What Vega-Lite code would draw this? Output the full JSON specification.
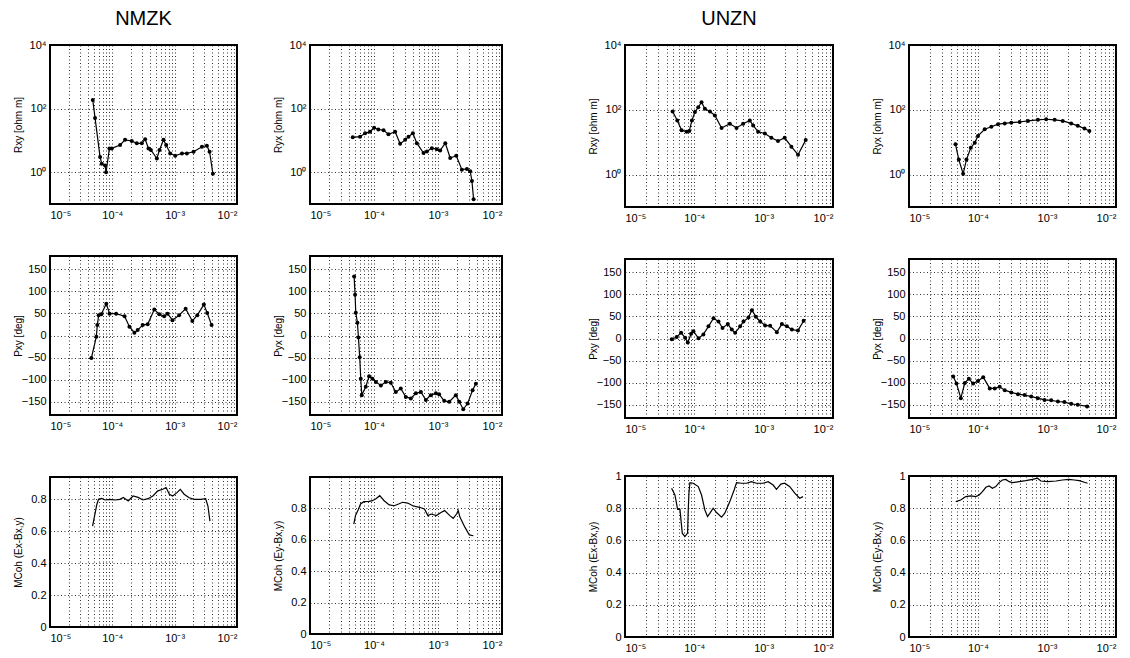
{
"$schema": "https://vega.github.io/schema/vega-lite/v6.json",
"padding": {"left": 12, "top": 8, "right": 0, "bottom": 2},
"background": "white",
"config": {
  "font": "Liberation Sans",
  "view": {"stroke": "black", "strokeWidth": 2},
  "axis": {"labelFont": "Liberation Sans", "labelFontSize": 11, "labelColor": "black", "titleFont": "Liberation Sans", "titleFontSize": 10, "titleFontWeight": "normal", "titleColor": "black", "grid": true, "gridColor": "black", "gridDash": [1, 2.5], "gridOpacity": 0.8, "gridWidth": 1, "ticks": false, "domain": false, "labelOverlap": false},
  "axisX": {"labelPadding": 5},
  "axisY": {"minExtent": 22, "maxExtent": 22, "titlePadding": 5, "labelPadding": 4},
  "title": {"font": "Liberation Sans", "fontSize": 20, "fontWeight": "normal", "color": "black", "offset": 10},
  "line": {"color": "black", "strokeWidth": 1.2},
  "point": {"color": "black", "filled": true, "size": 16, "opacity": 1}
},
"datasets": {
  "p1": [{"f":4.85e-5,"v":186},{"f":5.28e-5,"v":51},{"f":6.36e-5,"v":3.0},{"f":6.76e-5,"v":1.86},{"f":7.65e-5,"v":1.62},{"f":7.94e-5,"v":1.0},{"f":8.98e-5,"v":5.6},{"f":9.79e-5,"v":5.6},{"f":1.333e-4,"v":7.2},{"f":1.6e-4,"v":10.4},{"f":2.05e-4,"v":9.6},{"f":2.47e-4,"v":8.1},{"f":2.97e-4,"v":8.1},{"f":3.36e-4,"v":10.9},{"f":3.8e-4,"v":5.6},{"f":4.15e-4,"v":5.0},{"f":5.18e-4,"v":2.7},{"f":5.71e-4,"v":5.0},{"f":6.62e-4,"v":10.4},{"f":7.31e-4,"v":7.2},{"f":8.48e-4,"v":3.9},{"f":1.02e-3,"v":3.3},{"f":1.31e-3,"v":3.9},{"f":1.57e-3,"v":3.9},{"f":2.01e-3,"v":4.4},{"f":2.74e-3,"v":6.3},{"f":3.29e-3,"v":6.8},{"f":3.63e-3,"v":4.4},{"f":4.11e-3,"v":0.89}],
  "p2": [{"f":4.66e-5,"v":12.5},{"f":6.06e-5,"v":13.1},{"f":7.26e-5,"v":16.7},{"f":8.69e-5,"v":18.8},{"f":1.004e-4,"v":25},{"f":1.17e-4,"v":22},{"f":1.41e-4,"v":21},{"f":1.68e-4,"v":15.5},{"f":2.14e-4,"v":18.8},{"f":2.56e-4,"v":7.8},{"f":3.07e-4,"v":10.4},{"f":3.46e-4,"v":13.1},{"f":4.05e-4,"v":16.7},{"f":4.67e-4,"v":8.2},{"f":5.94e-4,"v":4.0},{"f":6.7e-4,"v":4.5},{"f":8.02e-4,"v":5.7},{"f":9.6e-4,"v":5.3},{"f":1.08e-3,"v":4.8},{"f":1.3e-3,"v":8.2},{"f":1.55e-3,"v":2.8},{"f":1.93e-3,"v":3.3},{"f":2.36e-3,"v":1.2},{"f":2.83e-3,"v":1.27},{"f":3.19e-3,"v":1.07},{"f":3.39e-3,"v":0.53},{"f":3.6e-3,"v":0.14}],
  "p3": [{"f":4.86e-5,"v":89},{"f":5.68e-5,"v":47},{"f":6.55e-5,"v":23.5},{"f":7.73e-5,"v":21},{"f":8.45e-5,"v":22},{"f":9.23e-5,"v":47},{"f":1.02e-4,"v":85},{"f":1.14e-4,"v":120},{"f":1.27e-4,"v":171},{"f":1.42e-4,"v":107},{"f":1.68e-4,"v":89},{"f":1.98e-4,"v":67},{"f":2.47e-4,"v":27.6},{"f":3.25e-4,"v":37},{"f":4.06e-4,"v":27.6},{"f":5.06e-4,"v":37},{"f":6.31e-4,"v":47},{"f":7.05e-4,"v":33},{"f":8.32e-4,"v":21},{"f":1.04e-3,"v":18.6},{"f":1.29e-3,"v":13.7},{"f":1.61e-3,"v":10.9},{"f":2.01e-3,"v":13.7},{"f":2.51e-3,"v":7.3},{"f":3.13e-3,"v":4.1},{"f":4.04e-3,"v":11.6}],
  "p4": [{"f":4.72e-5,"v":8.6},{"f":5.27e-5,"v":2.9},{"f":6.09e-5,"v":1.07},{"f":6.81e-5,"v":2.9},{"f":7.86e-5,"v":6.7},{"f":8.98e-5,"v":9.6},{"f":1.0e-4,"v":15.6},{"f":1.25e-4,"v":25},{"f":1.56e-4,"v":30},{"f":1.95e-4,"v":36},{"f":2.44e-4,"v":38},{"f":3.04e-4,"v":40},{"f":4.01e-4,"v":42},{"f":5.3e-4,"v":45.5},{"f":7.38e-4,"v":49},{"f":9.73e-4,"v":51},{"f":1.29e-3,"v":49},{"f":1.69e-3,"v":45.5},{"f":2.24e-3,"v":38},{"f":2.79e-3,"v":32},{"f":3.49e-3,"v":26.4},{"f":4.11e-3,"v":22.3}],
  "p5": [{"f":4.61e-5,"v":-51},{"f":5.54e-5,"v":-2.6},{"f":5.74e-5,"v":23.5},{"f":6.04e-5,"v":46},{"f":6.65e-5,"v":48},{"f":8.0e-5,"v":72},{"f":9.04e-5,"v":49.5},{"f":1.15e-4,"v":49.5},{"f":1.57e-4,"v":43.5},{"f":1.88e-4,"v":20},{"f":2.26e-4,"v":6.3},{"f":2.55e-4,"v":12.3},{"f":3.07e-4,"v":23.5},{"f":3.69e-4,"v":25.7},{"f":4.71e-4,"v":59},{"f":5.66e-4,"v":48},{"f":6.79e-4,"v":43.5},{"f":7.68e-4,"v":49.5},{"f":9.22e-4,"v":34.6},{"f":1.18e-3,"v":46},{"f":1.5e-3,"v":60.7},{"f":1.92e-3,"v":33},{"f":2.31e-3,"v":46},{"f":2.94e-3,"v":70},{"f":3.33e-3,"v":51},{"f":3.91e-3,"v":23.5}],
  "p6": [{"f":4.89e-5,"v":133.6},{"f":5.06e-5,"v":92.5},{"f":5.19e-5,"v":51.5},{"f":5.51e-5,"v":29},{"f":5.71e-5,"v":-4.5},{"f":5.98e-5,"v":-49},{"f":6.21e-5,"v":-98},{"f":6.44e-5,"v":-135},{"f":7.44e-5,"v":-116},{"f":8.38e-5,"v":-92.5},{"f":9.45e-5,"v":-98},{"f":1.07e-4,"v":-105},{"f":1.28e-4,"v":-113},{"f":1.53e-4,"v":-105},{"f":1.83e-4,"v":-107},{"f":2.19e-4,"v":-128},{"f":2.62e-4,"v":-120},{"f":3.14e-4,"v":-139},{"f":3.76e-4,"v":-142.5},{"f":4.51e-4,"v":-131},{"f":5.4e-4,"v":-128},{"f":6.46e-4,"v":-146},{"f":7.73e-4,"v":-135},{"f":9.27e-4,"v":-131},{"f":1.04e-3,"v":-133},{"f":1.25e-3,"v":-148},{"f":1.5e-3,"v":-150},{"f":1.9e-3,"v":-135},{"f":2.15e-3,"v":-150},{"f":2.48e-3,"v":-167},{"f":2.9e-3,"v":-154},{"f":3.47e-3,"v":-124},{"f":3.91e-3,"v":-109}],
  "p7": [{"f":4.72e-5,"v":-1.8},{"f":5.57e-5,"v":3.3},{"f":6.44e-5,"v":12.8},{"f":7.36e-5,"v":1.8},{"f":8.04e-5,"v":-9.2},{"f":8.98e-5,"v":10.6},{"f":9.7e-5,"v":16.5},{"f":1.15e-4,"v":0.4},{"f":1.35e-4,"v":9.2},{"f":1.6e-4,"v":27.5},{"f":1.89e-4,"v":45.9},{"f":2.23e-4,"v":38.5},{"f":2.55e-4,"v":23.8},{"f":3.04e-4,"v":32.6},{"f":3.47e-4,"v":20.2},{"f":3.88e-4,"v":12.8},{"f":4.58e-4,"v":27.5},{"f":5.12e-4,"v":38.5},{"f":6.04e-4,"v":47.3},{"f":6.76e-4,"v":64.2},{"f":7.71e-4,"v":49.5},{"f":8.91e-4,"v":38.5},{"f":1.05e-3,"v":29.7},{"f":1.24e-3,"v":28.6},{"f":1.55e-3,"v":14.3},{"f":1.83e-3,"v":32.6},{"f":2.16e-3,"v":27.5},{"f":2.55e-3,"v":20.2},{"f":3.12e-3,"v":18},{"f":3.77e-3,"v":40}],
  "p8": [{"f":4.37e-5,"v":-86},{"f":4.88e-5,"v":-102},{"f":5.64e-5,"v":-135},{"f":6.44e-5,"v":-101},{"f":7.36e-5,"v":-91},{"f":8.5e-5,"v":-102},{"f":1.0e-4,"v":-96},{"f":1.19e-4,"v":-87.5},{"f":1.48e-4,"v":-113},{"f":1.75e-4,"v":-113},{"f":2.06e-4,"v":-109.5},{"f":2.44e-4,"v":-117},{"f":3.04e-4,"v":-122},{"f":3.8e-4,"v":-126},{"f":4.73e-4,"v":-128},{"f":5.91e-4,"v":-131.6},{"f":7.38e-4,"v":-135},{"f":9.21e-4,"v":-139},{"f":1.15e-3,"v":-140},{"f":1.44e-3,"v":-142.6},{"f":1.79e-3,"v":-144},{"f":2.24e-3,"v":-148},{"f":2.79e-3,"v":-150},{"f":3.81e-3,"v":-153.7}],
  "p9": [{"f":4.82e-5,"v":0.632},{"f":5.18e-5,"v":0.695},{"f":5.64e-5,"v":0.768},{"f":6.0e-5,"v":0.8},{"f":6.77e-5,"v":0.806},{"f":7.65e-5,"v":0.796},{"f":9.19e-5,"v":0.8},{"f":1.1e-4,"v":0.796},{"f":1.32e-4,"v":0.8},{"f":1.5e-4,"v":0.812},{"f":1.8e-4,"v":0.79},{"f":2.15e-4,"v":0.821},{"f":2.59e-4,"v":0.812},{"f":3.1e-4,"v":0.796},{"f":3.72e-4,"v":0.804},{"f":4.47e-4,"v":0.821},{"f":5.37e-4,"v":0.853},{"f":6.45e-4,"v":0.863},{"f":7.28e-4,"v":0.874},{"f":8.22e-4,"v":0.832},{"f":9.29e-4,"v":0.821},{"f":1.09e-3,"v":0.842},{"f":1.23e-3,"v":0.863},{"f":1.42e-3,"v":0.832},{"f":1.71e-3,"v":0.81},{"f":2.05e-3,"v":0.8},{"f":2.62e-3,"v":0.8},{"f":3.14e-3,"v":0.804},{"f":3.42e-3,"v":0.758},{"f":3.68e-3,"v":0.663}],
  "p10": [{"f":4.83e-5,"v":0.7},{"f":5.14e-5,"v":0.754},{"f":5.66e-5,"v":0.792},{"f":6.16e-5,"v":0.828},{"f":6.95e-5,"v":0.843},{"f":8.34e-5,"v":0.845},{"f":9.41e-5,"v":0.849},{"f":1.06e-4,"v":0.86},{"f":1.23e-4,"v":0.881},{"f":1.44e-4,"v":0.849},{"f":1.73e-4,"v":0.822},{"f":2.07e-4,"v":0.817},{"f":2.42e-4,"v":0.828},{"f":2.8e-4,"v":0.839},{"f":3.36e-4,"v":0.834},{"f":4.03e-4,"v":0.817},{"f":5.14e-4,"v":0.807},{"f":6.15e-4,"v":0.796},{"f":6.95e-4,"v":0.754},{"f":7.85e-4,"v":0.764},{"f":9.41e-4,"v":0.754},{"f":1.13e-3,"v":0.775},{"f":1.27e-3,"v":0.786},{"f":1.53e-3,"v":0.754},{"f":1.73e-3,"v":0.737},{"f":1.95e-3,"v":0.764},{"f":2.07e-3,"v":0.786},{"f":2.2e-3,"v":0.745},{"f":2.64e-3,"v":0.679},{"f":3.09e-3,"v":0.631},{"f":3.57e-3,"v":0.626}],
  "p11": [{"f":4.7e-5,"v":0.924},{"f":5.25e-5,"v":0.882},{"f":5.74e-5,"v":0.793},{"f":6.2e-5,"v":0.793},{"f":6.7e-5,"v":0.645},{"f":7.31e-5,"v":0.624},{"f":7.99e-5,"v":0.645},{"f":8.17e-5,"v":0.789},{"f":8.36e-5,"v":0.893},{"f":8.63e-5,"v":0.959},{"f":9.64e-5,"v":0.955},{"f":1.14e-4,"v":0.934},{"f":1.27e-4,"v":0.882},{"f":1.42e-4,"v":0.789},{"f":1.55e-4,"v":0.748},{"f":1.68e-4,"v":0.769},{"f":1.87e-4,"v":0.8},{"f":2.09e-4,"v":0.773},{"f":2.47e-4,"v":0.744},{"f":2.75e-4,"v":0.769},{"f":3.25e-4,"v":0.841},{"f":3.75e-4,"v":0.913},{"f":4.06e-4,"v":0.959},{"f":4.79e-4,"v":0.955},{"f":5.65e-4,"v":0.955},{"f":6.67e-4,"v":0.965},{"f":7.87e-4,"v":0.955},{"f":9.82e-4,"v":0.955},{"f":1.16e-3,"v":0.965},{"f":1.37e-3,"v":0.944},{"f":1.53e-3,"v":0.917},{"f":1.77e-3,"v":0.95},{"f":2.01e-3,"v":0.955},{"f":2.38e-3,"v":0.934},{"f":2.81e-3,"v":0.893},{"f":3.31e-3,"v":0.862},{"f":3.7e-3,"v":0.872}],
  "p12": [{"f":4.76e-5,"v":0.841},{"f":5.62e-5,"v":0.851},{"f":6.64e-5,"v":0.872},{"f":7.85e-5,"v":0.876},{"f":9.28e-5,"v":0.872},{"f":1.04e-4,"v":0.882},{"f":1.16e-4,"v":0.903},{"f":1.3e-4,"v":0.93},{"f":1.45e-4,"v":0.938},{"f":1.62e-4,"v":0.924},{"f":1.81e-4,"v":0.934},{"f":2.02e-4,"v":0.959},{"f":2.26e-4,"v":0.975},{"f":2.53e-4,"v":0.979},{"f":2.83e-4,"v":0.965},{"f":3.16e-4,"v":0.959},{"f":3.95e-4,"v":0.965},{"f":4.93e-4,"v":0.971},{"f":6.17e-4,"v":0.979},{"f":7.29e-4,"v":0.986},{"f":8.15e-4,"v":0.969},{"f":1.02e-3,"v":0.965},{"f":1.35e-3,"v":0.969},{"f":1.68e-3,"v":0.975},{"f":2.1e-3,"v":0.979},{"f":2.48e-3,"v":0.975},{"f":2.93e-3,"v":0.971},{"f":3.47e-3,"v":0.961},{"f":3.87e-3,"v":0.955}]
},
"spacing": 84,
"hconcat": [
 {
  "columns": 2,
  "spacing": {"column": 34, "row": 34},
  "concat": [
   {"width": 187, "height": 159, "title": "NMZK", "data": {"name": "p1"},
    "encoding": {
     "x": {"field": "f", "type": "quantitative", "scale": {"type": "log", "domain": [0.00001, 0.01], "nice": false}, "axis": {"title": null, "values": [0.00001,0.00002,0.00003,0.00004,0.00005,0.00006,0.00007,0.00008,0.00009,0.0001,0.0002,0.0003,0.0004,0.0005,0.0006,0.0007,0.0008,0.0009,0.001,0.002,0.003,0.004,0.005,0.006,0.007,0.008,0.009,0.01], "labelExpr": "datum.value == 0.00001 ? '10⁻⁵' : datum.value == 0.0001 ? '10⁻⁴' : datum.value == 0.001 ? '10⁻³' : datum.value == 0.01 ? '10⁻²' : ''"}},
     "y": {"field": "v", "type": "quantitative", "scale": {"type": "log", "domain": [0.1, 10000], "nice": false}, "axis": {"title": "Rxy [ohm m]", "values": [1, 100, 10000], "labelExpr": "datum.value == 1 ? '10⁰' : datum.value == 100 ? '10²' : '10⁴'"}}
    },
    "layer": [{"mark": "line"}, {"mark": "point"}]},
   {"width": 192, "height": 159, "title": " ", "data": {"name": "p2"},
    "encoding": {
     "x": {"field": "f", "type": "quantitative", "scale": {"type": "log", "domain": [0.00001, 0.01], "nice": false}, "axis": {"title": null, "values": [0.00001,0.00002,0.00003,0.00004,0.00005,0.00006,0.00007,0.00008,0.00009,0.0001,0.0002,0.0003,0.0004,0.0005,0.0006,0.0007,0.0008,0.0009,0.001,0.002,0.003,0.004,0.005,0.006,0.007,0.008,0.009,0.01], "labelExpr": "datum.value == 0.00001 ? '10⁻⁵' : datum.value == 0.0001 ? '10⁻⁴' : datum.value == 0.001 ? '10⁻³' : datum.value == 0.01 ? '10⁻²' : ''"}},
     "y": {"field": "v", "type": "quantitative", "scale": {"type": "log", "domain": [0.1, 10000], "nice": false}, "axis": {"title": "Ryx [ohm m]", "values": [1, 100, 10000], "labelExpr": "datum.value == 1 ? '10⁰' : datum.value == 100 ? '10²' : '10⁴'"}}
    },
    "layer": [{"mark": "line"}, {"mark": "point"}]},
   {"width": 187, "height": 159, "data": {"name": "p5"},
    "encoding": {
     "x": {"field": "f", "type": "quantitative", "scale": {"type": "log", "domain": [0.00001, 0.01], "nice": false}, "axis": {"title": null, "values": [0.00001,0.00002,0.00003,0.00004,0.00005,0.00006,0.00007,0.00008,0.00009,0.0001,0.0002,0.0003,0.0004,0.0005,0.0006,0.0007,0.0008,0.0009,0.001,0.002,0.003,0.004,0.005,0.006,0.007,0.008,0.009,0.01], "labelExpr": "datum.value == 0.00001 ? '10⁻⁵' : datum.value == 0.0001 ? '10⁻⁴' : datum.value == 0.001 ? '10⁻³' : datum.value == 0.01 ? '10⁻²' : ''"}},
     "y": {"field": "v", "type": "quantitative", "scale": {"domain": [-180, 180], "nice": false, "zero": false}, "axis": {"title": "Pxy [deg]", "values": [-150, -100, -50, 0, 50, 100, 150]}}
    },
    "layer": [{"mark": "line"}, {"mark": "point"}]},
   {"width": 192, "height": 159, "data": {"name": "p6"},
    "encoding": {
     "x": {"field": "f", "type": "quantitative", "scale": {"type": "log", "domain": [0.00001, 0.01], "nice": false}, "axis": {"title": null, "values": [0.00001,0.00002,0.00003,0.00004,0.00005,0.00006,0.00007,0.00008,0.00009,0.0001,0.0002,0.0003,0.0004,0.0005,0.0006,0.0007,0.0008,0.0009,0.001,0.002,0.003,0.004,0.005,0.006,0.007,0.008,0.009,0.01], "labelExpr": "datum.value == 0.00001 ? '10⁻⁵' : datum.value == 0.0001 ? '10⁻⁴' : datum.value == 0.001 ? '10⁻³' : datum.value == 0.01 ? '10⁻²' : ''"}},
     "y": {"field": "v", "type": "quantitative", "scale": {"domain": [-180, 180], "nice": false, "zero": false}, "axis": {"title": "Pyx [deg]", "values": [-150, -100, -50, 0, 50, 100, 150]}}
    },
    "layer": [{"mark": "line"}, {"mark": "point"}]},
   {"width": 187, "height": 150, "title": {"text": " ", "fontSize": 9, "offset": 1}, "data": {"name": "p9"},
    "encoding": {
     "x": {"field": "f", "type": "quantitative", "scale": {"type": "log", "domain": [0.00001, 0.01], "nice": false}, "axis": {"title": null, "values": [0.00001,0.00002,0.00003,0.00004,0.00005,0.00006,0.00007,0.00008,0.00009,0.0001,0.0002,0.0003,0.0004,0.0005,0.0006,0.0007,0.0008,0.0009,0.001,0.002,0.003,0.004,0.005,0.006,0.007,0.008,0.009,0.01], "labelExpr": "datum.value == 0.00001 ? '10⁻⁵' : datum.value == 0.0001 ? '10⁻⁴' : datum.value == 0.001 ? '10⁻³' : datum.value == 0.01 ? '10⁻²' : ''"}},
     "y": {"field": "v", "type": "quantitative", "scale": {"domain": [0, 0.94], "nice": false}, "axis": {"title": "MCoh (Ex-Bx,y)", "values": [0, 0.2, 0.4, 0.6, 0.8], "labelExpr": "datum.value == 0 ? '0' : format(datum.value, '.1f')"}}
    },
    "layer": [{"mark": "line"}]},
   {"width": 192, "height": 157, "title": {"text": " ", "fontSize": 9, "offset": 1}, "data": {"name": "p10"},
    "encoding": {
     "x": {"field": "f", "type": "quantitative", "scale": {"type": "log", "domain": [0.00001, 0.01], "nice": false}, "axis": {"title": null, "values": [0.00001,0.00002,0.00003,0.00004,0.00005,0.00006,0.00007,0.00008,0.00009,0.0001,0.0002,0.0003,0.0004,0.0005,0.0006,0.0007,0.0008,0.0009,0.001,0.002,0.003,0.004,0.005,0.006,0.007,0.008,0.009,0.01], "labelExpr": "datum.value == 0.00001 ? '10⁻⁵' : datum.value == 0.0001 ? '10⁻⁴' : datum.value == 0.001 ? '10⁻³' : datum.value == 0.01 ? '10⁻²' : ''"}},
     "y": {"field": "v", "type": "quantitative", "scale": {"domain": [0, 1], "nice": false}, "axis": {"title": "MCoh (Ey-Bx,y)", "values": [0, 0.2, 0.4, 0.6, 0.8], "labelExpr": "datum.value == 0 ? '0' : format(datum.value, '.1f')"}}
    },
    "layer": [{"mark": "line"}]}
  ]
 },
 {
  "columns": 2,
  "spacing": {"column": 37, "row": 34},
  "concat": [
   {"width": 208, "height": 162, "title": "UNZN", "data": {"name": "p3"},
    "encoding": {
     "x": {"field": "f", "type": "quantitative", "scale": {"type": "log", "domain": [0.00001, 0.01], "nice": false}, "axis": {"title": null, "values": [0.00001,0.00002,0.00003,0.00004,0.00005,0.00006,0.00007,0.00008,0.00009,0.0001,0.0002,0.0003,0.0004,0.0005,0.0006,0.0007,0.0008,0.0009,0.001,0.002,0.003,0.004,0.005,0.006,0.007,0.008,0.009,0.01], "labelExpr": "datum.value == 0.00001 ? '10⁻⁵' : datum.value == 0.0001 ? '10⁻⁴' : datum.value == 0.001 ? '10⁻³' : datum.value == 0.01 ? '10⁻²' : ''"}},
     "y": {"field": "v", "type": "quantitative", "scale": {"type": "log", "domain": [0.1, 10000], "nice": false}, "axis": {"title": "Rxy [ohm m]", "values": [1, 100, 10000], "labelExpr": "datum.value == 1 ? '10⁰' : datum.value == 100 ? '10²' : '10⁴'"}}
    },
    "layer": [{"mark": "line"}, {"mark": "point"}]},
   {"width": 207, "height": 162, "title": " ", "data": {"name": "p4"},
    "encoding": {
     "x": {"field": "f", "type": "quantitative", "scale": {"type": "log", "domain": [0.00001, 0.01], "nice": false}, "axis": {"title": null, "values": [0.00001,0.00002,0.00003,0.00004,0.00005,0.00006,0.00007,0.00008,0.00009,0.0001,0.0002,0.0003,0.0004,0.0005,0.0006,0.0007,0.0008,0.0009,0.001,0.002,0.003,0.004,0.005,0.006,0.007,0.008,0.009,0.01], "labelExpr": "datum.value == 0.00001 ? '10⁻⁵' : datum.value == 0.0001 ? '10⁻⁴' : datum.value == 0.001 ? '10⁻³' : datum.value == 0.01 ? '10⁻²' : ''"}},
     "y": {"field": "v", "type": "quantitative", "scale": {"type": "log", "domain": [0.1, 10000], "nice": false}, "axis": {"title": "Ryx [ohm m]", "values": [1, 100, 10000], "labelExpr": "datum.value == 1 ? '10⁰' : datum.value == 100 ? '10²' : '10⁴'"}}
    },
    "layer": [{"mark": "line"}, {"mark": "point"}]},
   {"width": 208, "height": 159, "data": {"name": "p7"},
    "encoding": {
     "x": {"field": "f", "type": "quantitative", "scale": {"type": "log", "domain": [0.00001, 0.01], "nice": false}, "axis": {"title": null, "values": [0.00001,0.00002,0.00003,0.00004,0.00005,0.00006,0.00007,0.00008,0.00009,0.0001,0.0002,0.0003,0.0004,0.0005,0.0006,0.0007,0.0008,0.0009,0.001,0.002,0.003,0.004,0.005,0.006,0.007,0.008,0.009,0.01], "labelExpr": "datum.value == 0.00001 ? '10⁻⁵' : datum.value == 0.0001 ? '10⁻⁴' : datum.value == 0.001 ? '10⁻³' : datum.value == 0.01 ? '10⁻²' : ''"}},
     "y": {"field": "v", "type": "quantitative", "scale": {"domain": [-180, 180], "nice": false, "zero": false}, "axis": {"title": "Pxy [deg]", "values": [-150, -100, -50, 0, 50, 100, 150]}}
    },
    "layer": [{"mark": "line"}, {"mark": "point"}]},
   {"width": 207, "height": 159, "data": {"name": "p8"},
    "encoding": {
     "x": {"field": "f", "type": "quantitative", "scale": {"type": "log", "domain": [0.00001, 0.01], "nice": false}, "axis": {"title": null, "values": [0.00001,0.00002,0.00003,0.00004,0.00005,0.00006,0.00007,0.00008,0.00009,0.0001,0.0002,0.0003,0.0004,0.0005,0.0006,0.0007,0.0008,0.0009,0.001,0.002,0.003,0.004,0.005,0.006,0.007,0.008,0.009,0.01], "labelExpr": "datum.value == 0.00001 ? '10⁻⁵' : datum.value == 0.0001 ? '10⁻⁴' : datum.value == 0.001 ? '10⁻³' : datum.value == 0.01 ? '10⁻²' : ''"}},
     "y": {"field": "v", "type": "quantitative", "scale": {"domain": [-180, 180], "nice": false, "zero": false}, "axis": {"title": "Pyx [deg]", "values": [-150, -100, -50, 0, 50, 100, 150]}}
    },
    "layer": [{"mark": "line"}, {"mark": "point"}]},
   {"width": 208, "height": 161, "data": {"name": "p11"},
    "encoding": {
     "x": {"field": "f", "type": "quantitative", "scale": {"type": "log", "domain": [0.00001, 0.01], "nice": false}, "axis": {"title": null, "values": [0.00001,0.00002,0.00003,0.00004,0.00005,0.00006,0.00007,0.00008,0.00009,0.0001,0.0002,0.0003,0.0004,0.0005,0.0006,0.0007,0.0008,0.0009,0.001,0.002,0.003,0.004,0.005,0.006,0.007,0.008,0.009,0.01], "labelExpr": "datum.value == 0.00001 ? '10⁻⁵' : datum.value == 0.0001 ? '10⁻⁴' : datum.value == 0.001 ? '10⁻³' : datum.value == 0.01 ? '10⁻²' : ''"}},
     "y": {"field": "v", "type": "quantitative", "scale": {"domain": [0, 1], "nice": false}, "axis": {"title": "MCoh (Ex-Bx,y)", "values": [0, 0.2, 0.4, 0.6, 0.8, 1], "labelExpr": "datum.value == 0 ? '0' : datum.value == 1 ? '1' : format(datum.value, '.1f')"}}
    },
    "layer": [{"mark": "line"}]},
   {"width": 207, "height": 161, "data": {"name": "p12"},
    "encoding": {
     "x": {"field": "f", "type": "quantitative", "scale": {"type": "log", "domain": [0.00001, 0.01], "nice": false}, "axis": {"title": null, "values": [0.00001,0.00002,0.00003,0.00004,0.00005,0.00006,0.00007,0.00008,0.00009,0.0001,0.0002,0.0003,0.0004,0.0005,0.0006,0.0007,0.0008,0.0009,0.001,0.002,0.003,0.004,0.005,0.006,0.007,0.008,0.009,0.01], "labelExpr": "datum.value == 0.00001 ? '10⁻⁵' : datum.value == 0.0001 ? '10⁻⁴' : datum.value == 0.001 ? '10⁻³' : datum.value == 0.01 ? '10⁻²' : ''"}},
     "y": {"field": "v", "type": "quantitative", "scale": {"domain": [0, 1], "nice": false}, "axis": {"title": "MCoh (Ey-Bx,y)", "values": [0, 0.2, 0.4, 0.6, 0.8, 1], "labelExpr": "datum.value == 0 ? '0' : datum.value == 1 ? '1' : format(datum.value, '.1f')"}}
    },
    "layer": [{"mark": "line"}]}
  ]
 }
]
}
